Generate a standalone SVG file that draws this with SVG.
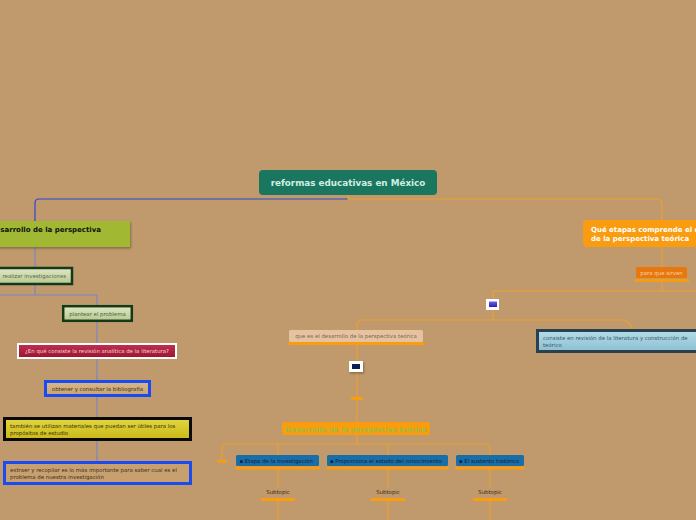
<svg xmlns="http://www.w3.org/2000/svg" width="696" height="520" viewBox="0 0 696 520">
<defs>
<style>
text{font-family:"DejaVu Sans","Verdana",sans-serif;}
.c{fill:none;stroke-width:1.2;}
.or{stroke:#eba032;}
.bl{stroke:#2a48d0;}
.lb{stroke:#7b85c0;}
.sm{font-size:5.4px;}
.bd{font-weight:bold;font-size:7px;}
.bar{fill:#f99c10;}
.blue{fill:#1a6ea8;}
.bt{font-size:5.4px;fill:#14203a;}
</style>
<linearGradient id="gGreen" x1="0" y1="0" x2="0" y2="1"><stop offset="0" stop-color="#dfe8c4"/><stop offset="1" stop-color="#b8c890"/></linearGradient>
<linearGradient id="gRed" x1="0" y1="0" x2="0" y2="1"><stop offset="0" stop-color="#c03050"/><stop offset="1" stop-color="#9a1530"/></linearGradient>
<linearGradient id="gTan" x1="0" y1="0" x2="0" y2="1"><stop offset="0" stop-color="#d8b888"/><stop offset="1" stop-color="#c8a272"/></linearGradient>
<linearGradient id="gYel" x1="0" y1="0" x2="0" y2="1"><stop offset="0" stop-color="#e4d640"/><stop offset="1" stop-color="#c8b818"/></linearGradient>
<linearGradient id="gCy" x1="0" y1="0" x2="0" y2="1"><stop offset="0" stop-color="#b4dce8"/><stop offset="1" stop-color="#8cc0d2"/></linearGradient>
<linearGradient id="gIco" x1="0" y1="0" x2="0" y2="1"><stop offset="0" stop-color="#6a60e8"/><stop offset="1" stop-color="#2a20b0"/></linearGradient>
<filter id="sh" x="-10%" y="-20%" width="130%" height="160%"><feDropShadow dx="1" dy="1.5" stdDeviation="0.8" flood-color="#000" flood-opacity="0.3"/></filter>
</defs>
<rect x="0" y="0" width="696" height="520" fill="#c09a6c"/>

<g id="connectors">
<path class="c bl" d="M348,199 H39 Q35,199 35,203 V221"/>
<path class="c lb" d="M35,247 V267 M35,285 V295 M0,295 H97 V305 M97,322 V343 M97,359 V380 M97,397 V417 M97,441 V461"/>
<path class="c or" d="M348,195 V199 H657 Q662,199 662,204 V220 M662,247 V267 M662,281 V291 M493,291 H696 M493,291 V299 M493,310 V320 M362,320 H622 Q631,320 631,329 M362,320 Q357,320 357,325 V330 M357,345 V361 M357,372 V397 M357,399 V422 M357,435 V444 M226,444 H486 Q490,444 490,448 V455 M226,444 Q222,444 222,448 V458 M278,444 V455 M388,444 V455 M278,469 V487 M278,500 V520 M388,469 V487 M388,500 V520 M490,469 V487 M490,500 V520"/>
</g>

<g id="root">
<rect x="259" y="170" width="178" height="25" rx="4" fill="#1b7660"/>
<text x="348" y="186" text-anchor="middle" font-weight="bold" font-size="8.8" fill="#cfeee0">reformas educativas en México</text>
</g>

<g id="n-desarrollo-left">
<rect x="-5" y="221" width="135" height="26" fill="#a0b832" filter="url(#sh)"/>
<text x="0.3" y="232" class="bd" fill="#111">sarrollo de la perspectiva</text>
</g>

<g id="n-realizar">
<rect x="-4" y="268" width="76" height="16" fill="url(#gGreen)" stroke="#14381a" stroke-width="2.5"/>
<text x="2.5" y="278" class="sm" fill="#56684c">realizar investigaciones</text>
</g>

<g id="n-plantear">
<rect x="63.2" y="306.2" width="68.6" height="14.6" fill="url(#gGreen)" stroke="#14381a" stroke-width="2.5"/>
<text x="97.5" y="315.8" class="sm" fill="#4a6040" text-anchor="middle">plantear el problema</text>
</g>

<g id="n-revision">
<rect x="18" y="344" width="158" height="14" fill="url(#gRed)" stroke="#ffffff" stroke-width="2"/>
<text x="97" y="353" class="sm" fill="#f6d0d8" text-anchor="middle">¿En qué consiste la revisión analítica de la literatura?</text>
</g>

<g id="n-obtener">
<rect x="45.5" y="381.5" width="104" height="14" fill="url(#gTan)" stroke="#1a4af2" stroke-width="3"/>
<text x="97.5" y="390.8" class="sm" fill="#3a3020" text-anchor="middle">obtener y consultar la bibliografía</text>
</g>

<g id="n-tambien">
<rect x="4.5" y="418.5" width="186" height="21" fill="url(#gYel)" stroke="#0a0a0a" stroke-width="3"/>
<text class="sm" fill="#3a3010"><tspan x="10" y="427.6">también se utilizan materiales que puedan ser útiles para los</tspan><tspan x="10" y="434.8">propósitos de estudio</tspan></text>
</g>

<g id="n-extraer">
<rect x="4.5" y="462.5" width="186" height="21" fill="#c8a070" stroke="#1a4af2" stroke-width="3"/>
<text class="sm" fill="#3a3020"><tspan x="10" y="471.6">extraer y recopilar es lo más importante para saber cual es el</tspan><tspan x="10" y="478.8">problema de nuestra investigación</tspan></text>
</g>

<g id="n-que-etapas">
<rect x="583" y="220" width="125" height="27" rx="4" fill="#f99c10"/>
<text class="bd" fill="#ffffff"><tspan x="591" y="231.5">Qué etapas comprende el d</tspan><tspan x="591" y="241">de la perspectiva teórica</tspan></text>
</g>

<g id="n-para">
<rect x="636" y="267" width="51" height="11" rx="1.5" fill="#e8780e"/>
<rect x="635" y="279" width="54" height="3" class="bar"/>
<text x="661.5" y="274.5" class="sm" fill="#f8d0a8" text-anchor="middle">para que sirven</text>
</g>

<g id="icon-1">
<rect x="486" y="299" width="13" height="11" fill="#ffffff"/>
<rect x="489" y="301.5" width="8" height="5.5" fill="url(#gIco)"/>
</g>

<g id="n-consiste">
<rect x="537.5" y="330.5" width="170" height="21" fill="url(#gCy)" stroke="#2a4050" stroke-width="3"/>
<text class="sm" fill="#3a5464"><tspan x="543" y="340">consiste en revisión  de la literatura  y construcción  de</tspan><tspan x="543" y="346.6">teórico</tspan></text>
</g>

<g id="n-que-es">
<rect x="289" y="330" width="134" height="12" rx="1.5" fill="#e6c29e"/>
<rect x="288" y="342" width="137" height="3" rx="1.5" class="bar"/>
<text x="356" y="338.3" class="sm" fill="#7a6656" text-anchor="middle">que es el desarrollo  de la perspectiva teórica</text>
</g>

<g id="icon-2">
<rect x="349" y="361" width="14" height="11" fill="#ffffff" filter="url(#sh)"/>
<rect x="352" y="364" width="8" height="5" fill="#0c2050"/>
</g>

<g id="bar-mid">
<rect x="351" y="397" width="12" height="3" rx="1" class="bar"/>
</g>

<g id="n-desarrollo-teorica">
<rect x="282" y="422" width="148" height="13" rx="2.5" fill="#f99c10"/>
<text x="356" y="431.5" class="bd" fill="#a4ba3a" text-anchor="middle">Desarrollo de la perspectiva teórica</text>
</g>

<g id="bar-left">
<rect x="217" y="459.5" width="10" height="3" rx="1" class="bar"/>
</g>

<g id="n-etapa">
<rect x="236" y="455" width="83" height="11" rx="1.5" class="blue"/>
<rect x="235" y="466.5" width="85" height="3" rx="1.5" class="bar"/>
<text x="239.5" y="462.6" class="bt">▪  Etapa de la investigación</text>
</g>

<g id="n-proporciona">
<rect x="327" y="455" width="121" height="11" rx="1.5" class="blue"/>
<rect x="326" y="466.5" width="123" height="3" rx="1.5" class="bar"/>
<text x="330" y="462.6" class="bt">▪ Proporciona el estado del conocimiento</text>
</g>

<g id="n-sustento">
<rect x="456" y="455" width="68" height="11" rx="1.5" class="blue"/>
<rect x="455" y="466.5" width="70" height="3" rx="1.5" class="bar"/>
<text x="459" y="462.6" class="bt">▪ El sustento histórico</text>
</g>

<g id="sub-1">
<text x="278" y="493.5" class="sm" fill="#3a2a18" text-anchor="middle">Subtopic</text>
<rect x="261" y="498" width="34" height="3" rx="1" class="bar"/>
</g>
<g id="sub-2">
<text x="388" y="493.5" class="sm" fill="#3a2a18" text-anchor="middle">Subtopic</text>
<rect x="371" y="498" width="34" height="3" rx="1" class="bar"/>
</g>
<g id="sub-3">
<text x="490" y="493.5" class="sm" fill="#3a2a18" text-anchor="middle">Subtopic</text>
<rect x="473" y="498" width="34" height="3" rx="1" class="bar"/>
</g>
</svg>
